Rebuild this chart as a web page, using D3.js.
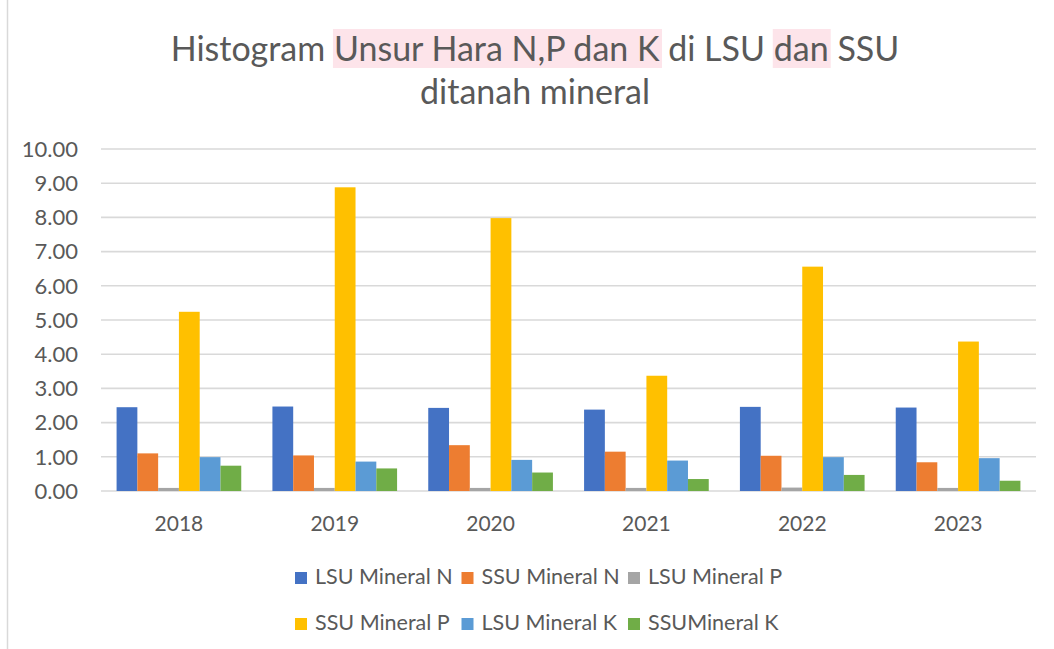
<!DOCTYPE html>
<html>
<head>
<meta charset="utf-8">
<script src="https://cdn.jsdelivr.net/npm/d3@7"></script>
<style>
  body { margin: 0; background: #fff; }
  text { font-family: Lato, "Open Sans", sans-serif; fill: #595959; }
</style>
</head>
<body>
<svg id="chart" width="1054" height="649"></svg>
<script>
// data
const years = ["2018", "2019", "2020", "2021", "2022", "2023"];
const seriesNames = ["LSU Mineral N", "SSU Mineral N", "LSU Mineral P", "SSU Mineral P", "LSU Mineral K", "SSUMineral K"];
const lsuN = [2.45, 2.47, 2.43, 2.38, 2.46, 2.44];
const ssuN = [1.10, 1.04, 1.34, 1.15, 1.03, 0.84];
const lsuP = [0.09, 0.09, 0.09, 0.09, 0.10, 0.09];
const ssuP = [5.24, 8.88, 7.98, 3.37, 6.56, 4.37];
const lsuK = [0.99, 0.86, 0.91, 0.89, 0.99, 0.96];
const ssuK = [0.74, 0.66, 0.54, 0.35, 0.47, 0.30];
const yTicks = [0, 1, 2, 3, 4, 5, 6, 7, 8, 9, 10];

const seriesValues = [lsuN, ssuN, lsuP, ssuP, lsuK, ssuK];
const colors = ["#4472C4", "#ED7D31", "#A5A5A5", "#FFC000", "#5B9BD5", "#70AD47"];

var svg = d3.select("#chart");

// chart frame
svg.append("rect").attr("x", 7.5).attr("y", -2).attr("width", 1060).attr("height", 660)
  .attr("fill", "none").attr("stroke", "#d9d9d9").attr("stroke-width", 1.5);

// title, with the pink highlight behind some words
var title = svg.append("g");
var hl = title.append("g");
var t1 = title.append("text").attr("text-anchor", "middle").attr("x", 535).attr("y", 61)
  .style("font-size", "34px");
const titleParts = [["Histogram ", false], ["Unsur Hara N,P dan K", true], [" di LSU ", false], ["dan", true], [" SSU", false]];
titleParts.forEach(function(p) {
  t1.append("tspan").text(p[0]).attr("data-hl", p[1] ? 1 : 0);
});
t1.selectAll("tspan").each(function() {
  if (d3.select(this).attr("data-hl") == 1) {
    var b = this.getBBox();
    hl.append("rect").attr("x", b.x - 1).attr("y", 29).attr("width", b.width + 3).attr("height", 39).attr("fill", "#fde4ea");
  }
});
title.append("text").attr("text-anchor", "middle").attr("x", 535).attr("y", 104)
  .style("font-size", "34px").text("ditanah mineral");

var x0 = d3.scaleBand().domain(years).range([101, 1036]).paddingInner(0.2).paddingOuter(0.1);
var x1 = d3.scaleBand().domain(seriesNames).range([0, x0.bandwidth()]);
var y = d3.scaleLinear().domain([0, 10]).range([491, 149]);

// gridlines
svg.append("g").selectAll("line").data(yTicks).enter().append("line")
  .attr("x1", 101).attr("x2", 1036)
  .attr("y1", function(d) { return y(d); }).attr("y2", function(d) { return y(d); })
  .attr("stroke", "#d9d9d9").attr("stroke-width", 1.6);

// y labels
svg.append("g").selectAll("text").data(yTicks).enter().append("text")
  .attr("x", 78).attr("y", function(d) { return y(d); }).attr("dy", "0.35em")
  .attr("text-anchor", "end").style("font-size", "22px")
  .text(function(d) { return d3.format(".2f")(d); });

// bars
var groups = svg.append("g").selectAll("g").data(years).enter().append("g")
  .attr("transform", function(d) { return "translate(" + x0(d) + ",0)"; });
groups.selectAll("rect").data(function(yr, i) {
    return seriesNames.map(function(s, j) { return {s: s, j: j, v: seriesValues[j][i]}; });
  }).enter().append("rect")
  .attr("x", function(d) { return x1(d.s); })
  .attr("y", function(d) { return y(d.v); })
  .attr("width", x1.bandwidth())
  .attr("height", function(d) { return y(0) - y(d.v); })
  .attr("fill", function(d) { return colors[d.j]; });

// x labels
svg.append("g").selectAll("text").data(years).enter().append("text")
  .attr("x", function(d) { return x0(d) + x0.bandwidth() / 2; }).attr("y", 531)
  .attr("text-anchor", "middle").style("font-size", "21px")
  .text(function(d) { return d; });

// legend, 3 per row
var legend = svg.append("g").selectAll("g").data(seriesNames).enter().append("g")
  .attr("transform", function(d, i) { return "translate(" + (295 + (i % 3) * 166.5) + "," + (584 + Math.floor(i / 3) * 46) + ")"; });
legend.append("rect").attr("x", 0).attr("y", -12).attr("width", 12).attr("height", 12)
  .attr("fill", function(d, i) { return colors[i]; });
legend.append("text").attr("x", 20).attr("y", 0).style("font-size", "21.5px").text(function(d) { return d; });
</script>
</body>
</html>
